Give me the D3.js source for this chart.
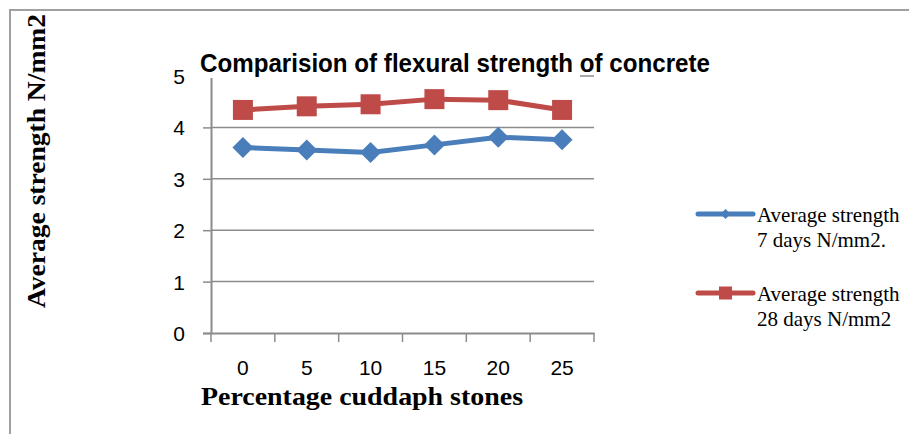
<!DOCTYPE html>
<html><head><meta charset="utf-8">
<script src="https://cdn.jsdelivr.net/npm/d3@7/dist/d3.min.js"></script>
<style>body{margin:0;background:#fff}svg{display:block}</style>
</head><body>
<script>
const categories = ["0","5","10","15","20","25"];
const days7 = [3.61,3.56,3.51,3.66,3.81,3.76];
const days28 = [4.34,4.41,4.45,4.55,4.53,4.34];
const yTicks = [0,1,2,3,4,5];
const seriesNames = [["Average strength","7 days N/mm2."],["Average strength","28 days N/mm2"]];
const chartTitle = "Comparision of flexural strength of concrete";
const xTitle = "Percentage cuddaph stones";
const yTitle = "Average strength N/mm2";

const W=909,H=434;
const svg=d3.select("body").append("svg").attr("width",W).attr("height",H);
svg.append("rect").attr("x",10).attr("y",10).attr("width",W+20).attr("height",H+20)
  .attr("fill","#fff").attr("stroke","#a0a0a0").attr("stroke-width",2);

const L=211,R=594,T=76,B=333;
const x=d3.scaleBand().domain(categories).range([L,R]).padding(0);
const y=d3.scaleLinear().domain([0,5]).range([B,T]);
const grey="#8c8c8c";

// gridlines
svg.append("g").selectAll("line").data(yTicks.filter(d=>d>0)).join("line")
  .attr("x1",L).attr("x2",R).attr("y1",d=>y(d)).attr("y2",d=>y(d))
  .attr("stroke",grey).attr("stroke-width",1.5);

// y axis
const ya=svg.append("g").attr("transform",`translate(${L},0)`)
  .call(d3.axisLeft(y).tickValues(yTicks).tickSize(8).tickPadding(18).tickFormat(d3.format("d")));
ya.select(".domain").attr("stroke",grey).attr("stroke-width",2);
ya.selectAll(".tick line").attr("stroke",grey).attr("stroke-width",1.5);
ya.selectAll(".tick text").attr("font-family","'Liberation Sans',Arial,sans-serif").attr("font-size",21).attr("fill","#000").attr("dy","0.36em");

// x axis
const xa=svg.append("g").attr("transform",`translate(0,${B})`)
  .call(d3.axisBottom(x).tickSize(0).tickPadding(27));
xa.select(".domain").attr("stroke",grey).attr("stroke-width",2);
xa.selectAll(".tick text").attr("font-family","'Liberation Sans',Arial,sans-serif").attr("font-size",21).attr("fill","#000");
const bounds=categories.map(c=>x(c)).concat([R]);
svg.append("g").selectAll("line").data(bounds).join("line")
  .attr("x1",d=>d).attr("x2",d=>d).attr("y1",B).attr("y2",B+9)
  .attr("stroke",grey).attr("stroke-width",1.5);

// title with white box covering part of top gridline
svg.append("rect").attr("x",196).attr("y",50).attr("width",384).attr("height",28).attr("fill","#fff");
svg.append("text").attr("x",200).attr("y",72).text(chartTitle)
  .attr("font-family","'Liberation Sans Narrow','Arial Narrow','Liberation Sans',Arial,sans-serif")
  .attr("font-weight","bold").attr("font-size",26)
  .attr("textLength",510).attr("lengthAdjust","spacingAndGlyphs");

// axis titles
svg.append("text").attr("x",362).attr("y",405).attr("text-anchor","middle").text(xTitle)
  .attr("font-family","'Liberation Serif','Times New Roman',serif").attr("font-weight","bold").attr("font-size",26)
  .attr("textLength",322).attr("lengthAdjust","spacingAndGlyphs");
svg.append("text").attr("transform","translate(45,161) rotate(-90)").attr("text-anchor","middle").text(yTitle)
  .attr("font-family","'Liberation Serif','Times New Roman',serif").attr("font-weight","bold").attr("font-size",26)
  .attr("textLength",294).attr("lengthAdjust","spacingAndGlyphs");

const cx=d=>x(d)+x.bandwidth()/2;
const series=[{vals:days7,color:"#4A7EBB",shape:"diamond"},{vals:days28,color:"#BE4B48",shape:"square"}];
const line=d3.line().x((d,i)=>cx(categories[i])).y(d=>y(d));
function marker(g,shape,s,color){
  if(shape==="diamond") g.append("path").attr("d",`M0,${-s}L${s},0L0,${s}L${-s},0Z`).attr("fill",color);
  else g.append("rect").attr("x",-s).attr("y",-s).attr("width",2*s).attr("height",2*s).attr("fill",color);
}
series.forEach(s=>{
  svg.append("path").datum(s.vals).attr("d",line).attr("fill","none").attr("stroke",s.color).attr("stroke-width",5).attr("stroke-linejoin","round");
  s.vals.forEach((v,i)=>{
    const g=svg.append("g").attr("transform",`translate(${cx(categories[i])},${y(v)})`);
    marker(g,s.shape,s.shape==="diamond"?10.5:10,s.color);
  });
});

// legend
const legY=[214,293];
series.forEach((s,i)=>{
  svg.append("line").attr("x1",698).attr("x2",753).attr("y1",legY[i]).attr("y2",legY[i])
    .attr("stroke",s.color).attr("stroke-width",5).attr("stroke-linecap","round");
  const g=svg.append("g").attr("transform",`translate(725.5,${legY[i]})`);
  marker(g,s.shape,s.shape==="diamond"?5:6.5,s.color);
  const t=svg.append("text").attr("font-family","'Liberation Serif','Times New Roman',serif").attr("font-size",21).attr("fill","#000");
  t.append("tspan").attr("x",757).attr("y",legY[i]+8).text(seriesNames[i][0]);
  t.append("tspan").attr("x",757).attr("y",legY[i]+33).text(seriesNames[i][1]);
});
</script>
</body></html>
